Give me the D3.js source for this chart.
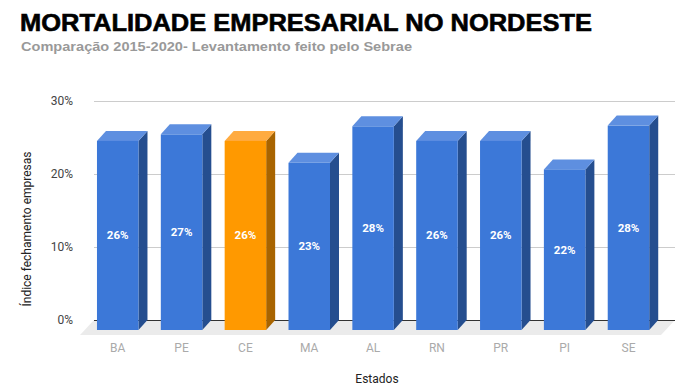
<!DOCTYPE html>
<html>
<head>
<meta charset="utf-8">
<script src="https://cdn.jsdelivr.net/npm/d3@7"></script>
<style>
  body { margin: 0; background: #fff; }
  svg { display: block; }
</style>
</head>
<body>
<div id="chart"></div>
<script>
// Dados
const estados = ['BA', 'PE', 'CE', 'MA', 'AL', 'RN', 'PR', 'PI', 'SE'];
const indices = [0.259, 0.268, 0.259, 0.229, 0.279, 0.259, 0.259, 0.220, 0.280];
const rotulos = ['26%', '27%', '26%', '23%', '28%', '26%', '26%', '22%', '28%'];
const ticks = [0, 0.1, 0.2, 0.3];
const destaque = 'CE';

const W = 696, H = 389;
const depthX = 9, depthY = 10;   // deslocamento 3D das barras

const svg = d3.select('#chart').append('svg')
    .attr('width', W)
    .attr('height', H);

// Escalas
const x = d3.scaleBand()
    .domain(estados)
    .range([85.8, 660.4])
    .paddingInner(0.35)
    .paddingOuter(0.175);

const y = d3.scaleLinear()
    .domain([0, 0.3])
    .range([320, 101]);

// Título e subtítulo
svg.append('text')
    .attr('x', 20)
    .attr('y', 31)
    .attr('textLength', 572)
    .attr('lengthAdjust', 'spacingAndGlyphs')
    .style('font-family', '"Liberation Sans", Arial, sans-serif')
    .style('font-weight', 'bold')
    .style('font-size', '24px')
    .attr('fill', '#000')
    .attr('stroke', '#000')
    .attr('stroke-width', 0.6)
    .text('MORTALIDADE EMPRESARIAL NO NORDESTE');

svg.append('text')
    .attr('x', 21)
    .attr('y', 51)
    .attr('textLength', 391)
    .attr('lengthAdjust', 'spacingAndGlyphs')
    .style('font-family', '"Liberation Sans", Arial, sans-serif')
    .style('font-weight', 'bold')
    .style('font-size', '12.5px')
    .attr('fill', '#999')
    .text('Comparação 2015-2020- Levantamento feito pelo Sebrae');

// Piso
svg.append('polygon')
    .attr('points', [[94, 320], [675, 320], [661, 335], [80, 335]].join(' '))
    .attr('fill', '#ebebeb');

// Linhas de grade
svg.selectAll('.grid')
    .data(ticks.filter(d => d > 0))
    .enter()
    .append('line')
    .attr('x1', 94)
    .attr('x2', 675)
    .attr('y1', d => Math.round(y(d)) + 0.5)
    .attr('y2', d => Math.round(y(d)) + 0.5)
    .attr('stroke', '#ccc');

svg.append('line')
    .attr('x1', 94)
    .attr('x2', 675)
    .attr('y1', y(0) + 0.5)
    .attr('y2', y(0) + 0.5)
    .attr('stroke', '#333');

// Rótulos do eixo Y
svg.selectAll('.ytick')
    .data(ticks)
    .enter()
    .append('text')
    .attr('x', 73)
    .attr('y', d => y(d) + 4)
    .attr('text-anchor', 'end')
    .style('font-family', 'Roboto, sans-serif')
    .style('font-size', '12px')
    .attr('fill', '#444')
    .text(d => d3.format('.0%')(d));

// Barras 3D
const cores = {
    normal: { front: '#3c78d8', side: '#254e8f', top: '#5e8fe0' },
    destaque: { front: '#ff9900', side: '#a86400', top: '#ffab40' }
};

const barras = svg.selectAll('.bar')
    .data(estados.map((e, i) => ({ estado: e, valor: indices[i], rotulo: rotulos[i] })))
    .enter()
    .append('g')
    .attr('class', 'bar');

const w = x.bandwidth();

// lado direito
barras.append('polygon')
    .attr('points', d => {
        const x0 = x(d.estado), yt = y(d.valor) + depthY, yb = y(0) + depthY;
        return [[x0 + w, yt], [x0 + w + depthX, yt - depthY], [x0 + w + depthX, yb - depthY], [x0 + w, yb]].join(' ');
    })
    .attr('fill', d => d.estado === destaque ? cores.destaque.side : cores.normal.side);

// topo
barras.append('polygon')
    .attr('points', d => {
        const x0 = x(d.estado), yt = y(d.valor) + depthY;
        return [[x0, yt], [x0 + depthX, yt - depthY], [x0 + w + depthX, yt - depthY], [x0 + w, yt]].join(' ');
    })
    .attr('fill', d => d.estado === destaque ? cores.destaque.top : cores.normal.top);

// frente
barras.append('rect')
    .attr('x', d => x(d.estado))
    .attr('y', d => y(d.valor) + depthY)
    .attr('width', w)
    .attr('height', d => y(0) - y(d.valor))
    .attr('fill', d => d.estado === destaque ? cores.destaque.front : cores.normal.front);

// valores
barras.append('text')
    .attr('x', d => x(d.estado) + w / 2)
    .attr('y', d => (y(d.valor) + y(0)) / 2 + depthY + 4)
    .attr('text-anchor', 'middle')
    .style('font-family', 'Roboto, sans-serif')
    .style('font-weight', 'bold')
    .style('font-size', '11.5px')
    .attr('fill', '#fff')
    .text(d => d.rotulo);

// Rótulos do eixo X
svg.selectAll('.xtick')
    .data(estados)
    .enter()
    .append('text')
    .attr('x', d => x(d) + w / 2)
    .attr('y', 352)
    .attr('text-anchor', 'middle')
    .style('font-family', 'Roboto, sans-serif')
    .style('font-size', '12px')
    .attr('fill', '#aaa')
    .text(d => d);

// Títulos dos eixos
svg.append('text')
    .attr('x', 377)
    .attr('y', 383)
    .attr('text-anchor', 'middle')
    .style('font-family', 'Roboto, sans-serif')
    .style('font-size', '12px')
    .attr('fill', '#222')
    .text('Estados');

svg.append('text')
    .attr('transform', 'translate(31,229) rotate(-90)')
    .attr('text-anchor', 'middle')
    .style('font-family', 'Roboto, sans-serif')
    .style('font-size', '12px')
    .attr('fill', '#222')
    .text('Índice fechamento empresas');
</script>
</body>
</html>
